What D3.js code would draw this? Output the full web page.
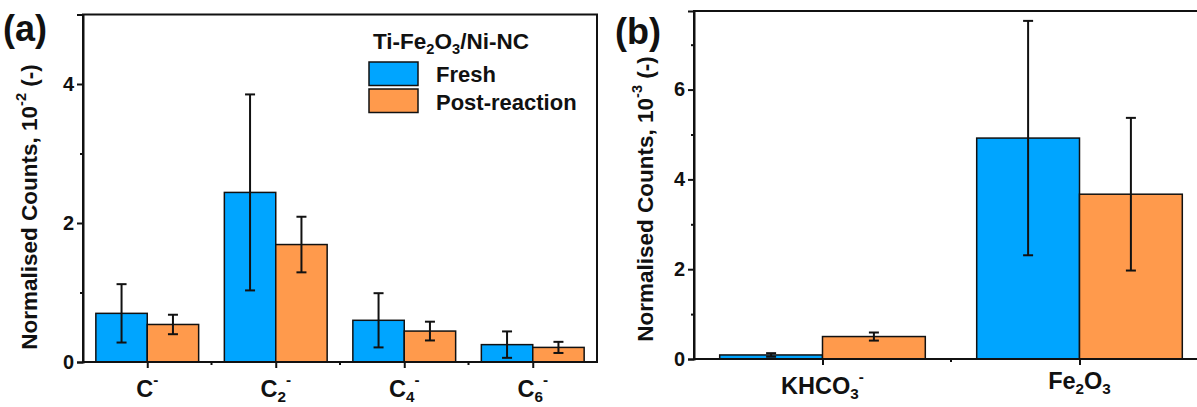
<!DOCTYPE html>
<html>
<head>
<meta charset="utf-8">
<script src="https://cdn.jsdelivr.net/npm/d3@7"></script>
<style>
  html, body { margin: 0; padding: 0; background: #fff; }
  svg { display: block; font-family: "Liberation Sans", Arial, sans-serif; font-weight: bold; }
  svg text { font-weight: bold; }
</style>
</head>
<body>
<svg id="chart" width="1197" height="407"></svg>
<script>
// ---- data ----
// Labels use a tiny markup: _{..} subscript, ^{..} superscript
const categoriesA = ["C^{-}", "C_{2}^{-}", "C_{4}^{-}", "C_{6}^{-}"];
const freshA    = [0.70, 2.44, 0.60, 0.25];
const freshErrA = [0.42, 1.41, 0.39, 0.19];
const postA     = [0.54, 1.69, 0.445, 0.21];
const postErrA  = [0.14, 0.40, 0.135, 0.08];

const categoriesB = ["KHCO_{3}^{-}", "Fe_{2}O_{3}"];
const freshB    = [0.09, 4.92];
const freshErrB = [0.04, 2.61];
const postB     = [0.50, 3.67];
const postErrB  = [0.09, 1.70];

const seriesNames = ["Fresh", "Post-reaction"];
const legendTitle = "Ti-Fe_{2}O_{3}/Ni-NC";
const yTicksA = [0, 2, 4];
const yMinorA = [1, 3];
const yTicksB = [0, 2, 4, 6];
const yMinorB = [1, 3, 5, 7];
const yTitleA = "Normalised Counts, 10^{-2} (-)";
const yTitleB = "Normalised Counts, 10^{-3} (-)";

const BLUE = "#00A5FF";
const ORANGE = "#FF9A4C";
const INK = "#111";

const svg = d3.select("#chart");

// write markup string into a text element as tspans
function richText(sel, str, size) {
  const re = /(_\{[^}]*\}|\^\{[^}]*\}|[^_^]+)/g;
  const parts = str.match(re) || [];
  const down = size * 0.22, up = size * 0.5;
  let prev = "n";
  parts.forEach(p => {
    let kind = "n", txt = p;
    if (p.startsWith("_{")) { kind = "sub"; txt = p.slice(2, -1); }
    else if (p.startsWith("^{")) { kind = "sup"; txt = p.slice(2, -1); }
    const t = sel.append("tspan").text(txt);
    if (kind === "sub") {
      t.attr("font-size", size * 0.65).attr("dy", down);
    } else if (kind === "sup") {
      t.attr("font-size", size * 0.65).attr("dy", prev === "sub" ? -(down + up) : -up);
    } else {
      t.attr("font-size", size).attr("dy", prev === "sub" ? -down : prev === "sup" ? up : 0);
    }
    prev = kind;
  });
}

function panel(opts) {
  const { x0, x1, yBottom, yTop, yMax, cats, fresh, freshErr, post, postErr,
          ticks, minor, title, titleX, titleY, tag, tagX, tagY } = opts;
  const g = svg.append("g");
  const x = d3.scaleBand().domain(cats).range([x0, x1]).paddingInner(0).paddingOuter(0);
  const y = d3.scaleLinear().domain([0, yMax]).range([yBottom, yTop]);
  const bw = x.bandwidth() * 0.4;
  const groups = [
    { vals: fresh, errs: freshErr, color: BLUE, off: -bw },
    { vals: post, errs: postErr, color: ORANGE, off: 0 }
  ];

  // bars
  groups.forEach(s => {
    g.selectAll(null).data(cats).enter().append("rect")
      .attr("x", d => x(d) + x.bandwidth() / 2 + s.off)
      .attr("y", (d, i) => y(s.vals[i]))
      .attr("width", bw)
      .attr("height", (d, i) => y(0) - y(s.vals[i]))
      .attr("fill", s.color)
      .attr("stroke", INK).attr("stroke-width", 1.5);
  });

  // error bars
  groups.forEach(s => {
    const eg = g.selectAll(null).data(cats).enter().append("g");
    const cx = d => x(d) + x.bandwidth() / 2 + s.off + bw / 2;
    eg.append("line")
      .attr("x1", cx).attr("x2", cx)
      .attr("y1", (d, i) => y(s.vals[i] + s.errs[i]))
      .attr("y2", (d, i) => y(s.vals[i] - s.errs[i]))
      .attr("stroke", INK).attr("stroke-width", 2);
    [1, -1].forEach(sign => {
      eg.append("line")
        .attr("x1", d => cx(d) - 5).attr("x2", d => cx(d) + 5)
        .attr("y1", (d, i) => y(s.vals[i] + sign * s.errs[i]))
        .attr("y2", (d, i) => y(s.vals[i] + sign * s.errs[i]))
        .attr("stroke", INK).attr("stroke-width", 2);
    });
  });

  // frame
  g.append("rect")
    .attr("x", x0).attr("y", y(yMax))
    .attr("width", x1 - x0).attr("height", y(0) - y(yMax))
    .attr("fill", "none").attr("stroke", INK).attr("stroke-width", 2);

  // y axis
  const yAxis = d3.axisLeft(y).tickValues(ticks).tickSize(6).tickPadding(3).tickFormat(d3.format("d"));
  const ya = g.append("g").attr("transform", `translate(${x0},0)`).call(yAxis)
    .attr("font-family", null).attr("font-size", null);
  ya.select(".domain").attr("stroke", INK).attr("stroke-width", 2);
  ya.selectAll(".tick line").attr("stroke", INK).attr("stroke-width", 2);
  ya.selectAll(".tick text")
    .style("font-size", "20px").style("font-weight", "bold").attr("fill", INK);
  const yMin = d3.axisLeft(y).tickValues(minor).tickSize(3).tickFormat("");
  const ym = g.append("g").attr("transform", `translate(${x0},0)`).call(yMin);
  ym.select(".domain").remove();
  ym.selectAll(".tick line").attr("stroke", INK).attr("stroke-width", 2);

  // x axis: major ticks at category centres, minor at boundaries
  const xc = d3.scalePoint().domain(cats).range([x0 + x.bandwidth() / 2, x1 - x.bandwidth() / 2]);
  const xa = g.append("g").attr("transform", `translate(0,${yBottom})`)
    .call(d3.axisBottom(xc).tickSize(6).tickFormat(""));
  xa.select(".domain").remove();
  xa.selectAll(".tick line").attr("stroke", INK).attr("stroke-width", 2);
  const bounds = cats.slice(1).map(c => x(c));
  g.selectAll(null).data(bounds).enter().append("line")
    .attr("x1", d => d).attr("x2", d => d)
    .attr("y1", yBottom).attr("y2", yBottom + 3)
    .attr("stroke", INK).attr("stroke-width", 2);

  // x labels
  cats.forEach(c => {
    const hasSup = c.includes("^{");
    const t = g.append("text")
      .attr("x", xc(c)).attr("y", yBottom + (hasSup ? 35 : 30))
      .attr("text-anchor", "middle").attr("fill", INK);
    richText(t, c, 23.5);
  });

  // y title
  const yt = g.append("text")
    .attr("transform", `translate(${titleX},${titleY}) rotate(-90)`)
    .attr("text-anchor", "middle").attr("fill", INK);
  richText(yt, title, 22.5);

  // panel tag
  g.append("text").attr("x", tagX).attr("y", tagY)
    .attr("font-size", 36).attr("fill", INK).text(tag);

  return { x, y };
}

panel({
  x0: 83, x1: 597, yBottom: 362, yTop: 14.5, yMax: 5,
  cats: categoriesA, fresh: freshA, freshErr: freshErrA, post: postA, postErr: postErrA,
  ticks: yTicksA, minor: yMinorA, title: yTitleA, titleX: 37, titleY: 207,
  tag: "(a)", tagX: 3, tagY: 41
});

panel({
  x0: 694, x1: 1208, yBottom: 359, yTop: 11, yMax: 7.75,
  cats: categoriesB, fresh: freshB, freshErr: freshErrB, post: postB, postErr: postErrB,
  ticks: yTicksB, minor: yMinorB, title: yTitleB, titleX: 653, titleY: 199,
  tag: "(b)", tagX: 615, tagY: 44
});

// legend (panel a)
const lg = svg.append("g");
const lt = lg.append("text").attr("x", 373).attr("y", 49).attr("fill", INK);
richText(lt, legendTitle, 22.5);
[BLUE, ORANGE].forEach((col, i) => {
  lg.append("rect")
    .attr("x", 369).attr("y", 62 + i * 27)
    .attr("width", 49).attr("height", 23.5)
    .attr("fill", col).attr("stroke", INK).attr("stroke-width", 1.5);
  lg.append("text")
    .attr("x", 436).attr("y", 82 + i * 28)
    .attr("font-size", 22).attr("fill", INK)
    .text(seriesNames[i]);
});
</script>
</body>
</html>
